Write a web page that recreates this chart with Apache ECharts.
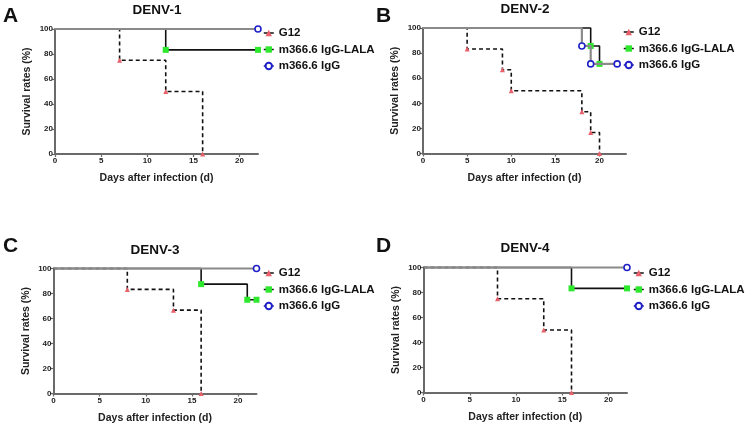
<!DOCTYPE html>
<html>
<head>
<meta charset="utf-8">
<script src="https://cdn.jsdelivr.net/npm/echarts@6/dist/echarts.min.js"></script>
<style>html,body{margin:0;padding:0;background:#fff}#c{width:750px;height:425px}</style>
</head>
<body>
<div id="c"></div>
<script>
// ---- data ----
const panelTitles = ['DENV-1', 'DENV-2', 'DENV-3', 'DENV-4'];
const panelLetters = ['A', 'B', 'C', 'D'];
const seriesNames = ['G12', 'm366.6 IgG-LALA', 'm366.6 IgG'];
const xTicksMax = [22, 23, 22, 22];

// DENV-1
const d1_G12_days = [0, 7, 12, 16];
const d1_G12_surv = [100, 75, 50, 0];
const d1_LALA_days = [0, 12, 22];
const d1_LALA_surv = [100, 83.3, 83.3];
const d1_IgG_days = [0, 22];
const d1_IgG_surv = [100, 100];
// DENV-2
const d2_G12_days = [0, 5, 9, 10, 18, 19, 20];
const d2_G12_surv = [100, 83.3, 66.7, 50, 33.3, 16.7, 0];
const d2_LALA_days = [0, 19, 20];
const d2_LALA_surv = [100, 85.7, 71.4];
const d2_IgG_days = [0, 18, 19, 22];
const d2_IgG_surv = [100, 85.7, 71.4, 71.4];
// DENV-3
const d3_G12_days = [0, 8, 13, 16];
const d3_G12_surv = [100, 83.3, 66.7, 0];
const d3_LALA_days = [0, 16, 21, 22];
const d3_LALA_surv = [100, 87.5, 75, 75];
const d3_IgG_days = [0, 22];
const d3_IgG_surv = [100, 100];
// DENV-4
const d4_G12_days = [0, 8, 13, 16];
const d4_G12_surv = [100, 75, 50, 0];
const d4_LALA_days = [0, 16, 22];
const d4_LALA_surv = [100, 83.3, 83.3];
const d4_IgG_days = [0, 22];
const d4_IgG_surv = [100, 100];

const panelData = [
  [[d1_G12_days, d1_G12_surv], [d1_LALA_days, d1_LALA_surv], [d1_IgG_days, d1_IgG_surv]],
  [[d2_G12_days, d2_G12_surv], [d2_LALA_days, d2_LALA_surv], [d2_IgG_days, d2_IgG_surv]],
  [[d3_G12_days, d3_G12_surv], [d3_LALA_days, d3_LALA_surv], [d3_IgG_days, d3_IgG_surv]],
  [[d4_G12_days, d4_G12_surv], [d4_LALA_days, d4_LALA_surv], [d4_IgG_days, d4_IgG_surv]]
];

// ---- layout / style ----
const FONT = '"Liberation Sans", Arial, sans-serif';
const grids = [
  {left: 55, top: 29, width: 203, height: 125},
  {left: 423, top: 28, width: 203, height: 125.5},
  {left: 53.5, top: 268.5, width: 203, height: 125},
  {left: 423.5, top: 267.5, width: 203.5, height: 125}
];
const titlePos = [[157, 10], [525, 9], [155, 250], [525, 248]];
const letterPos = [[3, 16], [376, 16], [3, 246], [376, 246]];
const legendPos = [[258, 22], [618, 21], [258, 262], [628, 262]];

const styles = [
  {symbol: 'triangle', symbolSize: 5, color: '#e8606a', line: {color: '#111', width: 1.6, type: [4, 3]}, border: '#e8606a', bw: 0, z: 2},
  {symbol: 'rect', symbolSize: 6, color: '#2ee82e', line: {color: '#111', width: 1.6, type: 'solid'}, border: '#2ee82e', bw: 0, z: 3},
  {symbol: 'circle', symbolSize: 6, color: '#ffffff', line: {color: '#8a8a8a', width: 2.2, type: 'solid'}, border: '#2020c8', bw: 1.6, z: 4}
];

const axisLabelStyle = {fontFamily: FONT, fontWeight: 'bold', fontSize: 8, color: '#222'};
const axisLineStyle = {lineStyle: {color: '#6a6a6a', width: 2}};

const option = {
  animation: false,
  backgroundColor: '#fff',
  grid: grids.map(g => Object.assign({containLabel: false}, g)),
  xAxis: grids.map((g, i) => ({
    type: 'value', gridIndex: i, min: 0, max: xTicksMax[i], interval: 5,
    name: 'Days after infection (d)', nameLocation: 'middle', nameGap: 19,
    nameTextStyle: {fontFamily: FONT, fontWeight: 'bold', fontSize: 10.5, color: '#222'},
    axisLine: Object.assign({show: true, onZero: false}, axisLineStyle),
    axisTick: {show: true, length: 3, lineStyle: {color: '#6a6a6a', width: 1.2}},
    axisLabel: Object.assign({margin: 3, showMaxLabel: false}, axisLabelStyle),
    splitLine: {show: false}
  })),
  yAxis: grids.map((g, i) => ({
    type: 'value', gridIndex: i, min: 0, max: 100, interval: 20,
    name: 'Survival rates (%)', nameLocation: 'middle', nameGap: 22, nameRotate: 90,
    nameTextStyle: {fontFamily: FONT, fontWeight: 'bold', fontSize: 10.5, color: '#222'},
    axisLine: Object.assign({show: true, onZero: false}, axisLineStyle),
    axisTick: {show: true, length: 3, lineStyle: {color: '#6a6a6a', width: 1.2}},
    axisLabel: Object.assign({margin: 2}, axisLabelStyle),
    splitLine: {show: false}
  })),
  legend: legendPos.map((p, i) => ({
    orient: 'vertical', left: p[0], top: p[1], itemWidth: 10, itemHeight: 8, itemGap: 4.5,
    textStyle: {fontFamily: FONT, fontWeight: 'bold', fontSize: 11.5, color: '#111'},
    selectedMode: false,
    data: seriesNames.map((n, k) => ({
      name: n,
      lineStyle: {color: k === 2 ? '#1a1a9a' : '#111', width: 1.5, type: 'solid'}
    }))
  })),
  graphic: [],
  series: []
};

panelTitles.forEach((t, i) => {
  option.graphic.push({type: 'text', x: titlePos[i][0], y: titlePos[i][1],
    style: {text: t, font: 'bold 13.5px ' + FONT, fill: '#111', textAlign: 'center', textVerticalAlign: 'middle'}});
  option.graphic.push({type: 'text', x: letterPos[i][0], y: letterPos[i][1],
    style: {text: panelLetters[i], font: 'bold 21px ' + FONT, fill: '#111', textAlign: 'left', textVerticalAlign: 'middle'}});
  panelData[i].forEach((pair, k) => {
    const st = styles[k];
    const days = pair[0], surv = pair[1];
    const data = days.map((d, j) => j === 0 ? {value: [d, surv[j]], symbol: 'none'} : [d, surv[j]]);
    option.series.push({
      type: 'line', name: seriesNames[k], xAxisIndex: i, yAxisIndex: i,
      step: 'end', data: data, clip: false, z: st.z,
      symbol: st.symbol, symbolSize: st.symbolSize, showAllSymbol: true,
      lineStyle: st.line,
      itemStyle: {color: st.color, borderColor: st.border, borderWidth: st.bw},
      emphasis: {disabled: true}
    });
  });
});

const chart = echarts.init(document.getElementById('c'), null, {renderer: 'canvas'});
chart.setOption(option);
</script>
</body>
</html>
